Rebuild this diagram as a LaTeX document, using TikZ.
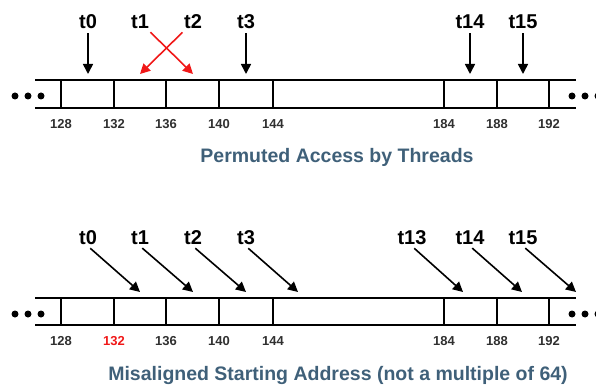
\documentclass[tikz,border=0pt]{standalone}
\usepackage{fontspec}
\setmainfont{Liberation Sans}
\usetikzlibrary{arrows.meta}
\definecolor{titleblue}{HTML}{3F6079}
\definecolor{numgray}{HTML}{303030}
\definecolor{swapred}{HTML}{F01818}
\tikzset{
  memline/.style={line width=1.8pt},
  thread/.style={font=\bfseries\fontsize{20}{20}\selectfont, inner sep=1pt},
  addr/.style={font=\bfseries\fontsize{13}{13}\selectfont, text=numgray},
  ptr/.style={-{Triangle[length=10pt,width=10pt]}, line width=1.6pt, shorten <=3pt},
  caption/.style={font=\bfseries\fontsize{19.5}{20}\selectfont, text=titleblue}
}
\begin{document}
\begin{tikzpicture}[x=1pt,y=-1pt]
    \useasboundingbox (0,0) rectangle (596,387);
    % permuted access
    \draw[memline] (35,80) -- (576,80);
    \draw[memline] (35,108) -- (576,108);
    \foreach \x in {61,114,166,219,273,444,497,549}
        \draw[memline] (\x,80) -- (\x,108);
    \foreach \x in {15,28,41,572,585,598}
        \fill (\x,96) circle(3.5pt);
    \foreach \x/\a in {61/128,114/132,166/136,219/140,273/144,444/184,497/188,549/192}
        \node[addr] (pa\a) at (\x,124) {\a};
    \node[thread] (pt0) at (88,22) {t0};
    \node[thread] (pt1) at (140,22) {t1};
    \node[thread] (pt2) at (193,22) {t2};
    \node[thread] (pt3) at (246,22) {t3};
    \node[thread] (pt14) at (470,22) {t14};
    \node[thread] (pt15) at (523,22) {t15};
    \coordinate (pe0) at (88,74);
    \coordinate (pe1) at (193,74);
    \coordinate (pe2) at (140,74);
    \coordinate (pe3) at (246,74);
    \coordinate (pe14) at (470,74);
    \coordinate (pe15) at (523,74);
    \draw[ptr] (pt0) -- (pe0);
    \draw[ptr,swapred] (pt1) -- (pe1);
    \draw[ptr,swapred] (pt2) -- (pe2);
    \draw[ptr] (pt3) -- (pe3);
    \draw[ptr] (pt14) -- (pe14);
    \draw[ptr] (pt15) -- (pe15);
    \node[caption] (ptitle) at (337,157) {Permuted Access by Threads};
    % misaligned start
    \draw[memline] (35,298) -- (576,298);
    \draw[memline] (35,325) -- (576,325);
    \foreach \x in {61,114,166,219,273,444,497,549}
        \draw[memline] (\x,298) -- (\x,325);
    \foreach \x in {15,28,41,572,585,598}
        \fill (\x,314) circle(3.5pt);
    \foreach \x/\a in {61/128,166/136,219/140,273/144,444/184,497/188,549/192}
        \node[addr] (ma\a) at (\x,341) {\a};
    \node[addr,text=swapred] (ma132) at (114,341) {132};
    \foreach \n/\x/\e in {0/88/140,1/140/193,2/193/246,3/246/298,13/412/463,14/470/522,15/523/576} {
        \node[thread] (mt\n) at (\x,238) {t\n};
        \coordinate (me\n) at (\e,292);
        \draw[ptr] (mt\n.south) -- (me\n);
    }
    \node[caption] (mtitle) at (338,375) {Misaligned Starting Address (not a multiple of 64)};
\end{tikzpicture}
\end{document}
